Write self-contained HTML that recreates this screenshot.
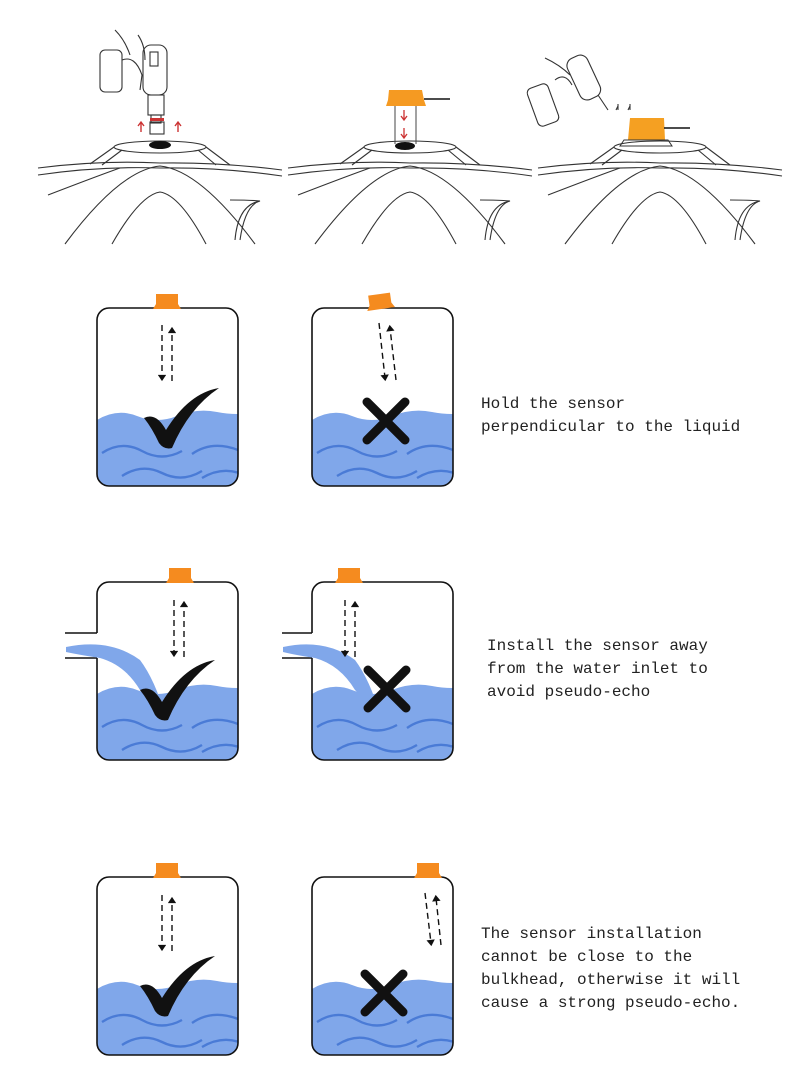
<!DOCTYPE html>
<html><head><meta charset="utf-8"><style>
html,body{margin:0;padding:0;background:#fff;}
svg{display:block}
text{font-family:"Liberation Mono",monospace;font-size:16px;fill:#222}
</style></head><body>
<svg width="802" height="1090" viewBox="0 0 802 1090" xmlns="http://www.w3.org/2000/svg">
<defs>
<g id="roof" fill="none" stroke="#333" stroke-width="1.1">
  <ellipse cx="0" cy="147" rx="46" ry="6"/>
  <path d="M-46 147 L-70 164 M-38 150 L-58 165 M46 147 L70 165 M38 150 L56 165"/>
  <path d="M-122 168 Q-60 160 0 163 Q60 162 122 170"/>
  <path d="M-122 175 Q-60 166 0 168 Q60 167 122 176"/>
  <path d="M-112 195 Q-60 175 -40 168"/>
  <path d="M-95 244 Q-40 170 0 166 Q40 170 95 244"/>
  <path d="M-48 244 Q-20 195 0 192 Q20 195 46 244"/>
  <path d="M70 200 Q90 200 100 201 Q85 205 80 240 M75 240 Q78 205 100 201"/>
</g>
<g id="tank">
  <clipPath id="tc"><rect x="0" y="0" width="141" height="178" rx="12"/></clipPath>
  <g clip-path="url(#tc)">
    <path d="M0 112 Q20 100 40 108 T80 108 T120 104 T160 104 L160 200 L0 200Z" fill="#80a7ea"/>
    <path d="M5 145 Q25 132 45 143 T85 143 M95 146 Q115 132 141 142" fill="none" stroke="#4a7bd6" stroke-width="2.4"/>
    <path d="M25 168 Q45 155 65 165 T105 163 M105 170 Q125 158 145 166" fill="none" stroke="#4a7bd6" stroke-width="2.4"/>
  </g>
  <rect x="0" y="0" width="141" height="178" rx="12" fill="none" stroke="#111" stroke-width="1.6"/>
</g>
<g id="cap"><path d="M-11 -14 L11 -14 L11 -4 L14 1 L-14 1 L-11 -4Z" fill="#f58b1f"/></g>
<g id="check"><path d="M0 0 Q12 -6 22 12 Q45 -25 75 -30 Q45 -10 28 30 Q20 32 15 25 Q8 10 0 0Z" fill="#111"/></g>
<g id="cross" stroke="#111" stroke-width="9" stroke-linecap="round"><path d="M-19 -19 L19 19 M19 -19 L-19 19"/></g>
<marker id="ah" viewBox="0 0 6 8" refX="3" refY="4" markerWidth="5" markerHeight="6" orient="auto"><path d="M0 0 L6 4 L0 8Z" fill="#111"/></marker>
</defs>

<use href="#roof" x="160" y="0"/>
<use href="#roof" x="410" y="0"/>
<use href="#roof" x="660" y="0"/>
<g fill="none" stroke="#333" stroke-width="1.1">
  <rect x="100" y="50" width="22" height="42" rx="5"/>
  <path d="M122 60 Q135 55 142 75 L140 90 M115 30 Q125 40 130 55 M138 35 Q145 45 145 60"/>
  <rect x="143" y="45" width="24" height="50" rx="8"/>
  <rect x="150" y="52" width="8" height="14"/>
  <rect x="148" y="95" width="16" height="20"/>
  <rect x="151" y="115" width="10" height="8"/>
  <rect x="150" y="122" width="14" height="12"/>
</g>
<rect x="150" y="118" width="14" height="3" fill="#c33"/>
<ellipse cx="160" cy="145" rx="11" ry="4" fill="#111"/>
<g stroke="#c33" stroke-width="1.4" fill="none"><path d="M141 132 V122 M138 126 L141 122 L144 126 M178 132 V122 M175 126 L178 122 L181 126"/></g>
<path d="M389 90 L422 90 L424 100 L426 106 L386 106 L388 100Z" fill="#f59a22"/>
<path d="M424 99 L450 99" stroke="#111" stroke-width="1.5"/>
<path d="M395 106 V144 M416 106 V144" stroke="#444" fill="none"/>
<g stroke="#c33" stroke-width="1.3" fill="none"><path d="M404 110 V120 M401 116 L404 120 L407 116 M404 128 V138 M401 134 L404 138 L407 134"/></g>
<ellipse cx="405" cy="146" rx="10" ry="4" fill="#111"/>
<g fill="none" stroke="#333" stroke-width="1.1">
  <rect x="532" y="85" width="22" height="40" rx="5" transform="rotate(-20 543 105)"/>
  <path d="M555 80 Q565 72 572 85 M545 58 Q560 65 570 75"/>
  <rect x="573" y="55" width="22" height="45" rx="8" transform="rotate(-25 584 78)"/>
  <path d="M598 95 L608 110"/>
  <path d="M618 110 V104 M630 110 V104 M618 106 L616 110 M630 106 L628 110"/>
</g>
<path d="M630 118 L664 118 L665 140 L628 140Z" fill="#f5a022"/>
<path d="M664 128 L690 128" stroke="#111" stroke-width="1.5"/>
<path d="M624 140 L668 140 L672 146 L620 146Z" fill="none" stroke="#333"/>

<use href="#tank" x="97" y="308"/>
<use href="#tank" x="312" y="308"/>
<use href="#cap" x="167" y="308"/>
<g transform="translate(381 308) rotate(-8)"><use href="#cap"/></g>
<g stroke="#111" stroke-width="1.4" stroke-dasharray="6 4" fill="none">
  <path d="M162 325 V378" marker-end="url(#ah)"/>
  <path d="M172 381 V330" marker-end="url(#ah)"/>
  <path d="M379 323 L385 378" marker-end="url(#ah)"/>
  <path d="M396 380 L390 328" marker-end="url(#ah)"/>
</g>
<use href="#check" x="144" y="418"/>
<use href="#cross" x="386" y="421"/>
<text x="481" y="408">Hold the sensor</text>
<text x="481" y="431">perpendicular to the liquid</text>

<use href="#tank" x="97" y="582"/>
<use href="#tank" x="312" y="582"/>
<rect x="92" y="633" width="10" height="25" fill="#fff"/>
<rect x="307" y="633" width="10" height="25" fill="#fff"/>
<path d="M65 633 H97 M65 658 H97 M282 633 H312 M282 658 H312" stroke="#111" stroke-width="1.5"/>
<path d="M66 647 Q110 638 140 660 Q155 680 165 715 Q150 700 140 690 Q125 665 100 658 Q80 655 66 652Z" fill="#80a7ea"/>
<path d="M283 647 Q325 638 355 660 Q370 680 380 715 Q365 700 355 690 Q340 665 315 658 Q295 655 283 652Z" fill="#80a7ea"/>
<use href="#cap" x="180" y="582"/>
<use href="#cap" x="349" y="582"/>
<g stroke="#111" stroke-width="1.4" stroke-dasharray="6 4" fill="none">
  <path d="M174 600 V654" marker-end="url(#ah)"/>
  <path d="M184 657 V604" marker-end="url(#ah)"/>
  <path d="M345 600 V654" marker-end="url(#ah)"/>
  <path d="M355 657 V604" marker-end="url(#ah)"/>
</g>
<use href="#check" x="140" y="690"/>
<use href="#cross" x="387" y="689"/>
<text x="487" y="650">Install the sensor away</text>
<text x="487" y="673">from the water inlet to</text>
<text x="487" y="696">avoid pseudo-echo</text>

<use href="#tank" x="97" y="877"/>
<use href="#tank" x="312" y="877"/>
<use href="#cap" x="167" y="877"/>
<use href="#cap" x="428" y="877"/>
<g stroke="#111" stroke-width="1.4" stroke-dasharray="6 4" fill="none">
  <path d="M162 895 V948" marker-end="url(#ah)"/>
  <path d="M172 951 V900" marker-end="url(#ah)"/>
  <path d="M425 893 L431 943" marker-end="url(#ah)"/>
  <path d="M441 945 L436 898" marker-end="url(#ah)"/>
</g>
<use href="#check" x="140" y="986"/>
<use href="#cross" x="384" y="993"/>
<text x="481" y="938">The sensor installation</text>
<text x="481" y="961">cannot be close to the</text>
<text x="481" y="984">bulkhead, otherwise it will</text>
<text x="481" y="1007">cause a strong pseudo-echo.</text>
</svg>
</body></html>
